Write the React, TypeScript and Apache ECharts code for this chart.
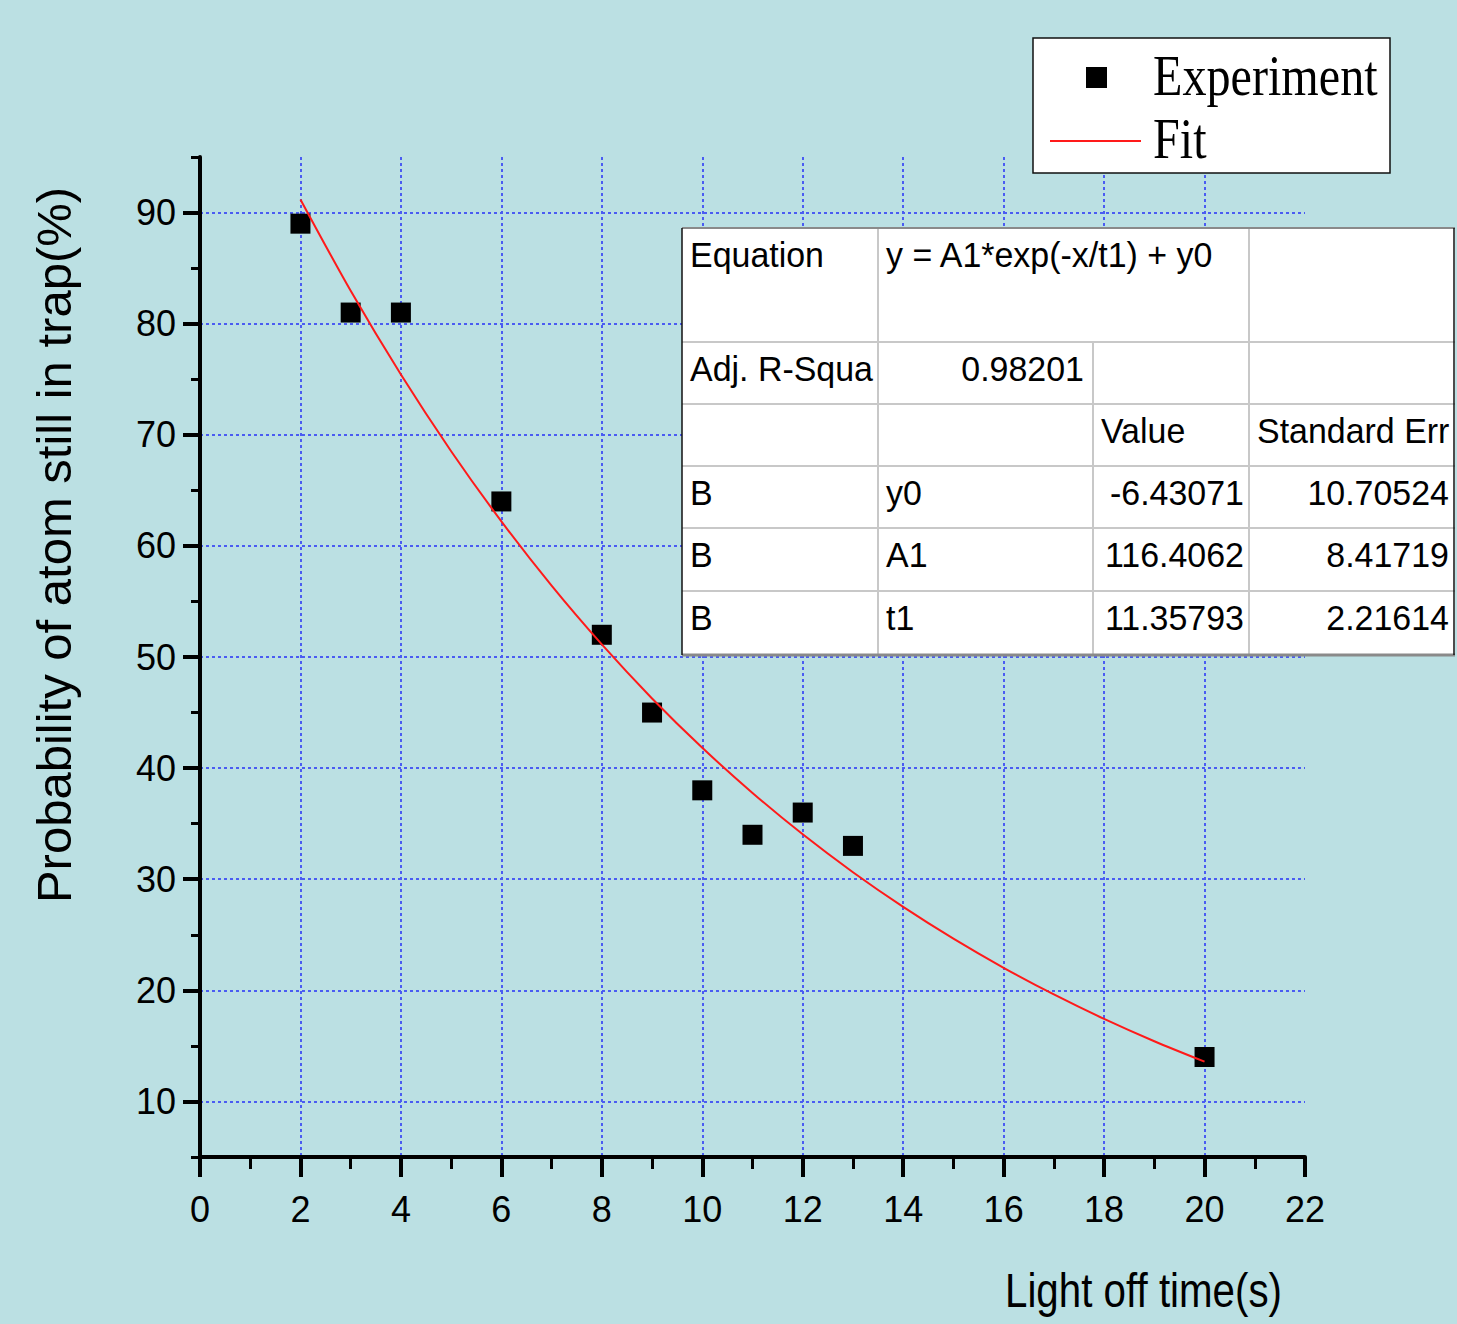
import React, { useEffect, useRef } from "react";
import * as echarts from "echarts";

// ---- data ----
const timeS = [2, 3, 4, 6, 8, 9, 10, 11, 12, 13, 20];
const probability = [89, 81, 81, 64, 52, 45, 38, 34, 36, 33, 14];

const fitX = [2, 3, 4, 5, 6, 7, 8, 9, 10, 11, 12, 13, 14, 15, 16, 17, 18, 19, 20];
const fitY = [91.18, 82.96, 75.42, 68.52, 62.21, 56.42, 51.13, 46.27, 41.83, 37.77, 34.04, 30.63, 27.51, 24.65, 22.03, 19.63, 17.43, 15.42, 13.58];

const xTickLabels = [0, 2, 4, 6, 8, 10, 12, 14, 16, 18, 20, 22];
const yTickLabels = [10, 20, 30, 40, 50, 60, 70, 80, 90];

const equationText = "y = A1*exp(-x/t1) + y0";
const adjR2 = "0.98201";
const paramGroup = ["B", "B", "B"];
const paramNames = ["y0", "A1", "t1"];
const paramValues = ["-6.43071", "116.4062", "11.35793"];
const paramErrors = ["10.70524", "8.41719", "2.21614"];

const legendNames = ["Experiment", "Fit"];
const xAxisTitle = "Light off time(s)";
const yAxisTitle = "Probability of atom still in trap(%)";

const SANS = '"Liberation Sans", Arial, sans-serif';
const SERIF = '"Liberation Serif", "Times New Roman", serif';
const GRID_BLUE = "#4a5cf2";

function buildTable(): any[] {
  const cols = [682, 878, 1093, 1249, 1455];
  const rows = [228, 342, 404, 466, 528, 591, 655];
  const els: any[] = [];
  const z = 100;
  els.push({ type: "rect", z, shape: { x: cols[0], y: rows[0], width: cols[4] - cols[0], height: rows[6] - rows[0] }, style: { fill: "#ffffff", stroke: null } });
  for (let i = 1; i < 6; i++) {
    els.push({ type: "line", z: z + 1, shape: { x1: cols[0], y1: rows[i], x2: cols[4], y2: rows[i] }, style: { stroke: "#c8c8c8", lineWidth: 2 } });
  }
  els.push({ type: "line", z: z + 1, shape: { x1: cols[1], y1: rows[0], x2: cols[1], y2: rows[6] }, style: { stroke: "#c8c8c8", lineWidth: 2 } });
  els.push({ type: "line", z: z + 1, shape: { x1: cols[2], y1: rows[1], x2: cols[2], y2: rows[6] }, style: { stroke: "#c8c8c8", lineWidth: 2 } });
  els.push({ type: "line", z: z + 1, shape: { x1: cols[3], y1: rows[0], x2: cols[3], y2: rows[6] }, style: { stroke: "#c8c8c8", lineWidth: 2 } });
  els.push({ type: "line", z: z + 2, shape: { x1: cols[0], y1: rows[0], x2: cols[4], y2: rows[0] }, style: { stroke: "#8a8a8a", lineWidth: 2 } });
  els.push({ type: "line", z: z + 2, shape: { x1: cols[0], y1: rows[6], x2: cols[4], y2: rows[6] }, style: { stroke: "#8a8a8a", lineWidth: 3 } });
  els.push({ type: "line", z: z + 2, shape: { x1: cols[0], y1: rows[0], x2: cols[0], y2: rows[6] }, style: { stroke: "#111", lineWidth: 1.5 } });
  els.push({ type: "line", z: z + 2, shape: { x1: cols[4] - 1, y1: rows[0], x2: cols[4] - 1, y2: rows[6] }, style: { stroke: "#111", lineWidth: 1.5 } });

  const txt = (text: string, x: number, y: number, align: string) => ({
    type: "text",
    z: z + 3,
    x,
    y,
    scaleX: 0.97,
    style: {
      text,
      fill: "#000",
      fontSize: 35,
      fontFamily: SANS,
      align,
      textAlign: align,
      verticalAlign: "middle",
      textVerticalAlign: "middle",
    },
  });
  const mid = (i: number) => rows[i] + 27;
  els.push(txt("Equation", 690, mid(0), "left"));
  els.push(txt(equationText, 886, mid(0), "left"));
  els.push(txt("Adj. R-Squa", 690, mid(1), "left"));
  els.push(txt(adjR2, 1084, mid(1), "right"));
  els.push(txt("Value", 1101, mid(2), "left"));
  els.push(txt("Standard Err", 1257, mid(2), "left"));
  for (let i = 0; i < paramNames.length; i++) {
    els.push(txt(paramGroup[i], 690, mid(3 + i), "left"));
    els.push(txt(paramNames[i], 886, mid(3 + i), "left"));
    els.push(txt(paramValues[i], 1244, mid(3 + i), "right"));
    els.push(txt(paramErrors[i], 1449, mid(3 + i), "right"));
  }
  return els;
}

function buildLegend(): any[] {
  const z = 100;
  return [
    { type: "rect", z, shape: { x: 1033, y: 38, width: 357, height: 135 }, style: { fill: "#ffffff", stroke: "#111", lineWidth: 1.5 } },
    { type: "rect", z: z + 1, shape: { x: 1086, y: 67, width: 21, height: 21 }, style: { fill: "#000" } },
    { type: "line", z: z + 1, shape: { x1: 1050, y1: 141, x2: 1141, y2: 141 }, style: { stroke: "#ff1a1a", lineWidth: 2 } },
    {
      type: "text", z: z + 1, x: 1153, y: 76, scaleX: 0.86,
      style: { text: legendNames[0], fill: "#000", fontSize: 56, fontFamily: SERIF, align: "left", textAlign: "left", verticalAlign: "middle", textVerticalAlign: "middle" },
    },
    {
      type: "text", z: z + 1, x: 1153, y: 139, scaleX: 0.86,
      style: { text: legendNames[1], fill: "#000", fontSize: 56, fontFamily: SERIF, align: "left", textAlign: "left", verticalAlign: "middle", textVerticalAlign: "middle" },
    },
  ];
}

function buildAxisTitles(): any[] {
  return [
    {
      type: "text", x: 54, y: 545, rotation: Math.PI / 2,
      style: { text: yAxisTitle, fill: "#000", fontSize: 49, fontFamily: SANS, align: "center", textAlign: "center", verticalAlign: "middle", textVerticalAlign: "middle" },
    },
    {
      type: "text", x: 1005, y: 1290, scaleX: 0.84,
      style: { text: xAxisTitle, fill: "#000", fontSize: 48, fontFamily: SANS, align: "left", textAlign: "left", verticalAlign: "middle", textVerticalAlign: "middle" },
    },
  ];
}

export default function App() {
  const ref = useRef<HTMLDivElement>(null);

  useEffect(() => {
    if (!ref.current) return;
    const chart = echarts.init(ref.current, undefined, { renderer: "svg" });

    const scatterData = timeS.map((t, i) => [t, probability[i]]);
    const fitData = fitX.map((t, i) => [t, fitY[i]]);

    const option: any = {
      animation: false,
      backgroundColor: "#bbe0e3",
      grid: { left: 200, right: 152, top: 157, bottom: 167, containLabel: false },
      xAxis: [
        {
          type: "value",
          position: "bottom",
          min: 0,
          max: 22,
          interval: 2,
          axisLine: { show: true, onZero: false, lineStyle: { color: "#000", width: 4 } },
          axisTick: { show: true, inside: false, length: 20, lineStyle: { color: "#000", width: 4 } },
          axisLabel: {
            show: true,
            margin: 34,
            fontSize: 36,
            fontFamily: SANS,
            color: "#000",
            formatter: (v: number) => (xTickLabels.indexOf(v) >= 0 ? String(v) : ""),
          },
          splitLine: { show: true, showMinLine: false, showMaxLine: false, lineStyle: { color: GRID_BLUE, width: 2, type: [3, 3] } },
        },
        {
          type: "value",
          position: "bottom",
          min: 0,
          max: 22,
          interval: 1,
          axisLine: { show: false, onZero: false },
          axisTick: { show: true, inside: false, length: 12, lineStyle: { color: "#000", width: 3 } },
          axisLabel: { show: false },
          splitLine: { show: false },
        },
      ],
      yAxis: [
        {
          type: "value",
          position: "left",
          min: 5,
          max: 95,
          splitNumber: 9,
          minInterval: 10,
          maxInterval: 10,
          axisLine: { show: true, onZero: false, lineStyle: { color: "#000", width: 4 } },
          axisTick: { show: true, inside: false, length: 17, customValues: yTickLabels, lineStyle: { color: "#000", width: 4 } },
          axisLabel: {
            show: true,
            margin: 24,
            fontSize: 36,
            fontFamily: SANS,
            color: "#000",
            customValues: yTickLabels,
            formatter: (v: number) => (yTickLabels.indexOf(v) >= 0 ? String(v) : ""),
          },
          splitLine: { show: true, showMinLine: true, showMaxLine: true, lineStyle: { color: GRID_BLUE, width: 2, type: [3, 3] } },
        },
        {
          type: "value",
          position: "left",
          min: 5,
          max: 95,
          interval: 5,
          axisLine: { show: false, onZero: false },
          axisTick: { show: true, inside: false, length: 9, lineStyle: { color: "#000", width: 3 } },
          axisLabel: { show: false },
          splitLine: { show: false },
        },
      ],
      series: [
        {
          name: legendNames[0],
          type: "scatter",
          xAxisIndex: 0,
          yAxisIndex: 0,
          symbol: "rect",
          symbolSize: 20,
          itemStyle: { color: "#000", opacity: 1 },
          data: scatterData,
          z: 3,
        },
        {
          name: legendNames[1],
          type: "line",
          xAxisIndex: 0,
          yAxisIndex: 0,
          smooth: 0.3,
          showSymbol: false,
          symbol: "none",
          lineStyle: { color: "#ff1a1a", width: 2 },
          data: fitData,
          z: 4,
        },
      ],
      graphic: [...buildAxisTitles(), ...buildLegend(), ...buildTable()],
    };

    chart.setOption(option);
    return () => {
      chart.dispose();
    };
  }, []);

  return (
    <div
      ref={ref}
      style={{ position: "absolute", left: 0, top: 0, width: 1457, height: 1324 }}
    />
  );
}
